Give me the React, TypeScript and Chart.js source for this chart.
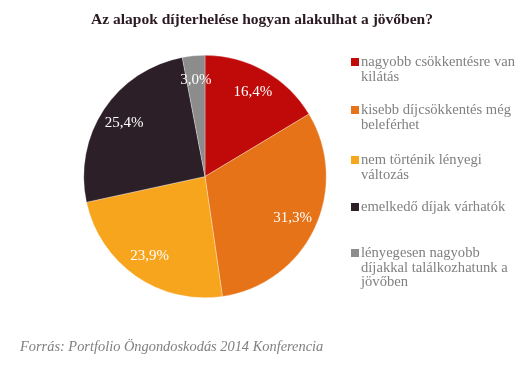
import React, { useEffect, useRef } from "react";
import { Chart, registerables } from "chart.js";

Chart.register(...registerables);

const titleText = "Az alapok díjterhelése hogyan alakulhat a jövőben?";
const sourceText = "Forrás: Portfolio Öngondoskodás 2014 Konferencia";
const categories: string[][] = [
  ["nagyobb csökkentésre van", "kilátás"],
  ["kisebb díjcsökkentés még", "beleférhet"],
  ["nem történik lényegi", "változás"],
  ["emelkedő díjak várhatók"],
  ["lényegesen nagyobb", "díjakkal találkozhatunk a", "jövőben"],
];
const values = [16.4, 31.3, 23.9, 25.4, 3.0];
const colors = ["#c00a0a", "#e67317", "#f7a51d", "#2d1f27", "#8c8c8c"];
const legendTops = [54, 102, 152, 199, 245];

const serif = "'Liberation Serif', 'Times New Roman', serif";

const labelPlugin = {
  id: "sliceLabels",
  afterDatasetsDraw(chart: any) {
    const ctx = chart.ctx;
    const meta = chart.getDatasetMeta(0);
    ctx.save();
    ctx.fillStyle = "#ffffff";
    ctx.font = "15px 'Liberation Serif', serif";
    ctx.textAlign = "center";
    ctx.textBaseline = "middle";
    meta.data.forEach((arc: any, i: number) => {
      const { x, y, startAngle, endAngle, outerRadius } = arc.getProps(
        ["x", "y", "startAngle", "endAngle", "outerRadius"],
        true
      );
      const mid = (startAngle + endAngle) / 2;
      const r = outerRadius * 0.8;
      const txt = values[i].toFixed(1).replace(".", ",") + "%";
      ctx.fillText(txt, x + Math.cos(mid) * r, y + Math.sin(mid) * r);
    });
    ctx.restore();
  },
};

export default function App() {
  const ref = useRef<HTMLCanvasElement>(null);
  useEffect(() => {
    if (!ref.current) return;
    const chart = new Chart(ref.current, {
      type: "pie",
      data: {
        labels: categories.map((c) => c.join(" ")),
        datasets: [
          {
            data: values,
            backgroundColor: colors,
            borderColor: "rgba(255,255,255,0.6)",
            borderWidth: 0.5,
          },
        ],
      },
      options: {
        responsive: false,
        animation: false,
        layout: { padding: { left: 83, right: 203, top: 55, bottom: 67 } },
        plugins: {
          legend: { display: false },
          title: { display: false },
          tooltip: { enabled: false },
        },
      },
      plugins: [labelPlugin],
    });
    return () => chart.destroy();
  }, []);

  return (
    <div style={{ position: "fixed", left: 0, top: 0, width: 530, height: 365, background: "#fff" }}>
      <canvas ref={ref} width={530} height={365} style={{ position: "absolute", left: 0, top: 0 }} />
      <div
        style={{
          position: "absolute",
          left: 0,
          width: 524,
          top: 10,
          textAlign: "center",
          fontFamily: serif,
          fontWeight: "bold",
          fontSize: 15.5,
          color: "#2b1a22",
        }}
      >
        {titleText}
      </div>
      {categories.map((lines, i) => (
        <div key={i} style={{ position: "absolute", left: 351, top: legendTops[i] }}>
          <div
            style={{
              position: "absolute",
              left: 0,
              top: 4,
              width: 8,
              height: 8,
              background: colors[i],
            }}
          />
          <div
            style={{
              position: "absolute",
              left: 10,
              top: 0,
              fontFamily: serif,
              fontSize: 14.6,
              lineHeight: "14.5px",
              color: "#808080",
              whiteSpace: "nowrap",
            }}
          >
            {lines.map((l, j) => (
              <div key={j}>{l}</div>
            ))}
          </div>
        </div>
      ))}
      <div
        style={{
          position: "absolute",
          left: 20,
          top: 338,
          fontFamily: serif,
          fontStyle: "italic",
          fontSize: 14.4,
          color: "#808080",
        }}
      >
        {sourceText}
      </div>
    </div>
  );
}
